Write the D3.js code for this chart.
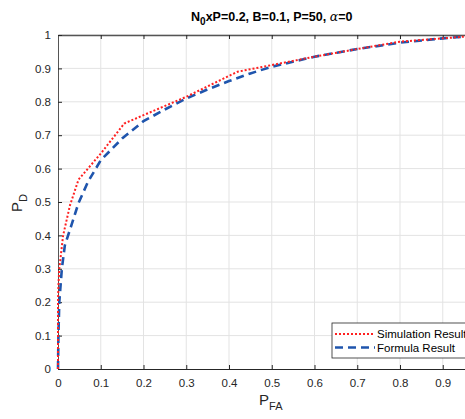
<!DOCTYPE html>
<html>
<head>
<meta charset="utf-8">
<script src="https://cdnjs.cloudflare.com/ajax/libs/d3/7.8.5/d3.min.js"></script>
<style>
  body { margin: 0; background: #fff; }
  svg { display: block; font-family: Arial, "Liberation Sans", sans-serif; }
</style>
</head>
<body>
<div class="graph"></div>
<script>
// data
var simPfa = [0, 0, 0.001, 0.003, 0.012, 0.028, 0.048, 0.1, 0.155, 0.2, 0.3, 0.42, 0.5, 0.6, 0.7, 0.8, 0.9, 1];
var simPd  = [0, 0.2, 0.25, 0.3, 0.4, 0.49, 0.567, 0.645, 0.735, 0.76, 0.815, 0.89, 0.91, 0.935, 0.958, 0.98, 0.99, 1];
var formPfa = [0, 0.001, 0.003, 0.009, 0.016, 0.032, 0.048, 0.07, 0.1, 0.15, 0.2, 0.25, 0.3, 0.35, 0.4, 0.45, 0.5, 0.6, 0.7, 0.8, 0.9, 1];
var formPd  = [0, 0.1, 0.2, 0.3, 0.37, 0.433, 0.497, 0.56, 0.625, 0.69, 0.742, 0.777, 0.81, 0.837, 0.862, 0.885, 0.905, 0.935, 0.958, 0.977, 0.99, 1];
// x = 1 sits past the right edge of the window, so its label is left out
var xTicks = [0, 0.1, 0.2, 0.3, 0.4, 0.5, 0.6, 0.7, 0.8, 0.9];
var yTicks = [0, 0.1, 0.2, 0.3, 0.4, 0.5, 0.6, 0.7, 0.8, 0.9, 1];

var margin = { top: 35, left: 58 };
var width = 427.5, height = 334;

var svg = d3.select(".graph").append("svg")
    .attr("width", 465).attr("height", 419);

var x = d3.scaleLinear().domain([0, 1]).range([0, width]);
var y = d3.scaleLinear().domain([0, 1]).range([height, 0]);

var g = svg.append("g").attr("transform", "translate(" + margin.left + "," + margin.top + ")");

// grid
g.append("g").selectAll("line").data(xTicks.slice(1)).enter().append("line")
  .attr("x1", d => x(d)).attr("x2", d => x(d)).attr("y1", 0).attr("y2", height)
  .attr("stroke", "#e3e3e3").attr("stroke-width", 1);
g.append("g").selectAll("line").data(yTicks.slice(1)).enter().append("line")
  .attr("x1", 0).attr("x2", width).attr("y1", d => y(d)).attr("y2", d => y(d))
  .attr("stroke", "#e3e3e3").attr("stroke-width", 1);

// axes (matlab style, ticks inward)
var xAxis = g.append("g").attr("transform", "translate(0," + height + ")")
  .call(d3.axisBottom(x).tickValues(xTicks).tickSizeInner(-4).tickSizeOuter(0).tickPadding(10)
    .tickFormat(d => d === 0 ? "0" : d3.format(".1f")(d)));
var xTop = g.append("g")
  .call(d3.axisTop(x).tickValues(xTicks).tickSizeInner(-4).tickSizeOuter(0).tickFormat(""));
var yAxis = g.append("g")
  .call(d3.axisLeft(y).tickValues(yTicks).tickSizeInner(-4).tickSizeOuter(0).tickPadding(7)
    .tickFormat(d => (d === 0 || d === 1) ? String(d) : d3.format(".1f")(d)));

[xAxis, xTop, yAxis].forEach(function (a) {
  a.select(".domain").attr("stroke", "#262626").attr("stroke-width", 1);
  a.selectAll(".tick line").attr("stroke", "#262626");
  a.selectAll(".tick text").attr("fill", "#262626").attr("font-size", 11.5);
});
xTop.select(".domain").attr("stroke", "#555").attr("stroke-width", 1.5);
yAxis.select(".domain").attr("stroke", "#555");

// curves
var line = d3.line().x(d => x(d[0])).y(d => y(d[1]));
var simData = simPfa.map((v, i) => [v, simPd[i]]);
var formData = formPfa.map((v, i) => [v, formPd[i]]);

g.append("clipPath").attr("id", "clip").append("rect")
  .attr("x", -3).attr("y", -3).attr("width", width + 6).attr("height", height + 6);

g.append("path").datum(formData).attr("d", line).attr("clip-path", "url(#clip)")
  .attr("fill", "none").attr("stroke", "#1f55ad").attr("stroke-width", 2.6)
  .attr("stroke-dasharray", "8,5");
g.append("path").datum(simData).attr("d", line).attr("clip-path", "url(#clip)")
  .attr("fill", "none").attr("stroke", "#ff2020").attr("stroke-width", 2)
  .attr("stroke-dasharray", "2,2");

// title
var title = svg.append("text").attr("x", margin.left + width / 2).attr("y", 21)
  .attr("text-anchor", "middle").attr("font-weight", "bold").attr("font-size", 12.5).attr("fill", "#000");
title.append("tspan").text("N");
title.append("tspan").attr("dy", 4).attr("font-size", 10).text("0");
title.append("tspan").attr("dy", -4).text("xP=0.2, B=0.1, P=50, ");
title.append("tspan").attr("font-family", "DejaVu Serif, serif").attr("font-style", "italic").attr("font-weight", "normal").text("\u03b1");
title.append("tspan").text("=0");

// axis labels
var xl = svg.append("text").attr("x", margin.left + width / 2 - 1).attr("y", 405)
  .attr("text-anchor", "middle").attr("font-size", 15).attr("fill", "#262626");
xl.append("tspan").text("P");
xl.append("tspan").attr("dy", 5).attr("font-size", 11).text("FA");

var yl = svg.append("text").attr("transform", "translate(22," + (margin.top + height / 2 + 1) + ") rotate(-90)")
  .attr("text-anchor", "middle").attr("font-size", 15).attr("fill", "#262626");
yl.append("tspan").text("P");
yl.append("tspan").attr("dy", 5).attr("font-size", 11).text("D");

// legend
var leg = svg.append("g").attr("transform", "translate(332,323)");
leg.append("rect").attr("width", 160).attr("height", 35)
  .attr("fill", "#fff").attr("stroke", "#262626").attr("stroke-width", 0.8);
var items = [
  { name: "Simulation Result", color: "#ff2020", dash: "2,2", w: 2 },
  { name: "Formula Result", color: "#1f55ad", dash: "8,5", w: 2.6 }
];
items.forEach(function (it, i) {
  var yy = 11 + i * 13.5;
  leg.append("line").attr("x1", 3).attr("x2", 43).attr("y1", yy).attr("y2", yy)
    .attr("stroke", it.color).attr("stroke-width", it.w).attr("stroke-dasharray", it.dash);
  leg.append("text").attr("x", 45).attr("y", yy + 4).attr("font-size", 11.5).attr("fill", "#000").text(it.name);
});
</script>
</body>
</html>
